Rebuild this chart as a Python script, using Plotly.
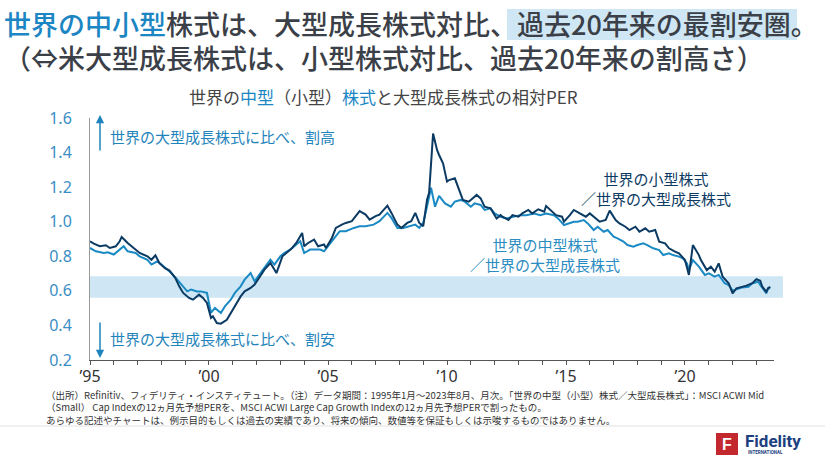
import plotly.graph_objects as go

# ---------------- data ----------------
# months since 1995-01 and relative PER values
SMALL_MONTHS = [0, 2, 5, 8, 10, 13, 15, 16, 19, 22, 25, 29, 31, 33, 35, 38, 40, 43, 45, 47, 50, 52, 55, 57, 59,
                61, 62, 64, 66, 69, 71, 74, 76, 78, 81, 83, 86, 88, 91, 92, 94, 97, 99, 102, 104, 107, 108, 110,
                113, 115, 118, 119, 122, 124, 127, 129, 132, 134, 136, 139, 141, 144, 146, 149, 150, 152, 155,
                157, 160, 162, 164, 166, 168, 170, 171, 173, 175, 176, 178, 180, 181, 184, 186, 188, 191, 192,
                195, 197, 199, 202, 203, 205, 207, 208, 211, 213, 216, 218, 221, 223, 226, 229, 230, 233, 235,
                238, 239, 242, 244, 247, 250, 252, 255, 257, 260, 262, 265, 267, 270, 272, 275, 277, 280, 282,
                285, 287, 290, 292, 295, 297, 300, 302, 304, 307, 308, 311, 313, 315, 317, 319, 322, 324, 326,
                329, 331, 334, 336, 338, 339, 341, 342, 343]
SMALL_VALUES = [0.887, 0.873, 0.858, 0.864, 0.848, 0.858, 0.887, 0.912, 0.877, 0.848, 0.819, 0.800, 0.780, 0.806,
                0.760, 0.730, 0.719, 0.675, 0.626, 0.588, 0.559, 0.549, 0.578, 0.559, 0.530, 0.443, 0.453, 0.414,
                0.410, 0.433, 0.472, 0.530, 0.568, 0.597, 0.617, 0.636, 0.684, 0.723, 0.761, 0.742, 0.703, 0.800,
                0.819, 0.848, 0.877, 0.935, 0.858, 0.877, 0.897, 0.858, 0.868, 0.848, 0.906, 0.964, 0.983, 0.993,
                1.003, 1.032, 1.061, 1.041, 1.012, 1.032, 1.041, 1.080, 1.093, 1.051, 0.983, 0.964, 0.993, 1.003,
                1.051, 0.993, 0.974, 1.128, 1.167, 1.510, 1.415, 1.386, 1.338, 1.232, 1.241, 1.251, 1.193, 1.126,
                1.116, 1.126, 1.155, 1.135, 1.087, 1.077, 1.058, 1.019, 1.038, 1.029, 1.010, 1.038, 1.029, 1.048,
                1.068, 1.048, 1.072, 1.058, 1.091, 1.058, 1.038, 1.029, 1.000, 1.038, 1.068, 1.048, 1.029, 1.048,
                1.019, 1.000, 1.010, 1.064, 1.010, 0.990, 0.971, 0.952, 0.971, 0.942, 0.962, 0.942, 0.952, 0.885,
                0.875, 0.846, 0.827, 0.817, 0.778, 0.692, 0.865, 0.807, 0.778, 0.720, 0.740, 0.711, 0.759, 0.682,
                0.644, 0.586, 0.615, 0.624, 0.630, 0.644, 0.667, 0.659, 0.624, 0.595, 0.615, 0.624]

MID_MONTHS = [0, 3, 7, 9, 12, 14, 17, 19, 23, 25, 29, 31, 34, 36, 39, 41, 44, 46, 49, 51, 54, 56, 59, 61, 63, 66,
              68, 71, 73, 76, 78, 81, 83, 86, 88, 91, 93, 96, 98, 101, 103, 106, 108, 111, 113, 116, 118, 121,
              124, 126, 129, 133, 136, 139, 143, 146, 150, 152, 155, 158, 161, 164, 166, 168, 170, 172, 174,
              176, 179, 182, 184, 187, 189, 192, 194, 197, 199, 202, 204, 207, 210, 213, 217, 220, 224, 227,
              230, 234, 236, 239, 241, 244, 246, 249, 251, 254, 256, 259, 261, 264, 266, 269, 271, 274, 276,
              279, 281, 284, 287, 289, 292, 294, 297, 299, 301, 302, 304, 307, 310, 312, 315, 317, 320, 322,
              324, 327, 329, 332, 334, 337, 338, 341, 342, 343]
MID_VALUES = [0.848, 0.829, 0.819, 0.823, 0.810, 0.829, 0.858, 0.829, 0.819, 0.800, 0.780, 0.752, 0.771, 0.752,
              0.723, 0.703, 0.665, 0.636, 0.597, 0.607, 0.597, 0.597, 0.588, 0.472, 0.501, 0.472, 0.510, 0.549,
              0.588, 0.626, 0.665, 0.703, 0.655, 0.703, 0.732, 0.780, 0.752, 0.800, 0.819, 0.839, 0.858, 0.887,
              0.819, 0.839, 0.839, 0.839, 0.829, 0.877, 0.916, 0.945, 0.945, 0.964, 0.974, 0.974, 0.983, 1.003,
              1.051, 1.022, 0.964, 0.964, 0.974, 0.983, 0.964, 0.993, 1.090, 1.196, 1.087, 1.149, 1.106, 1.087,
              1.116, 1.126, 1.116, 1.087, 1.106, 1.097, 1.068, 1.077, 1.048, 1.029, 1.019, 1.029, 1.038, 1.038,
              1.048, 1.038, 1.048, 1.038, 1.019, 0.981, 0.990, 1.000, 1.000, 1.010, 0.990, 0.952, 0.971, 0.942,
              0.952, 0.913, 0.904, 0.885, 0.865, 0.856, 0.865, 0.875, 0.865, 0.846, 0.836, 0.807, 0.817, 0.807,
              0.798, 0.788, 0.759, 0.720, 0.778, 0.740, 0.692, 0.701, 0.682, 0.692, 0.644, 0.634, 0.601, 0.615,
              0.620, 0.624, 0.644, 0.653, 0.634, 0.586, 0.615, 0.615]

BAND = [0.56, 0.685]                      # shaded "20-year cheap zone"
Y_TICKS = [0.2, 0.4, 0.6, 0.8, 1.0, 1.2, 1.4, 1.6]
X_TICK_YEARS = list(range(1995, 2024))
X_LABELS = {1995: "’95", 2000: "’00", 2005: "’05", 2010: "’10", 2015: "’15", 2020: "’20"}
X_RANGE = ["1995-01-01", "2023-09-28"]


def to_dates(months):
    return [f"{1995 + m // 12}-{m % 12 + 1:02d}-01" for m in months]


# ---------------- layout geometry (pixels) ----------------
W, H = 825, 464
L, R, T, B = 90, 774, 118, 360


def px2x(px):
    return (px - L) / (R - L)


def py2y(py):
    return (B - py) / (B - T)


DARK = "#0b3a63"
LIGHT = "#1b8ac4"
TXT = "#3b3f48"
JP = "Noto Sans CJK JP"

fig = go.Figure()
fig.add_trace(go.Scatter(x=to_dates(MID_MONTHS), y=MID_VALUES, mode="lines",
                         line=dict(color=LIGHT, width=2), hoverinfo="skip"))
fig.add_trace(go.Scatter(x=to_dates(SMALL_MONTHS), y=SMALL_VALUES, mode="lines",
                         line=dict(color=DARK, width=2), hoverinfo="skip"))

shapes = [
    dict(type="rect", xref="paper", yref="y", x0=0, x1=px2x(783), y0=BAND[0], y1=BAND[1],
         fillcolor="#cfe6f4", line=dict(width=0), layer="below"),
    # title highlight
    dict(type="rect", xref="paper", yref="paper", x0=px2x(507), x1=px2x(797), y0=py2y(40), y1=py2y(9),
         fillcolor="#cfe6f4", line=dict(width=0), layer="below"),
    # separator
    dict(type="line", xref="paper", yref="paper", x0=px2x(0), x1=px2x(825), y0=py2y(426), y1=py2y(426),
         line=dict(color="#e2e2e2", width=1)),
    # logo square
    dict(type="rect", xref="paper", yref="paper", x0=px2x(716), x1=px2x(738), y0=py2y(455), y1=py2y(433),
         fillcolor="#c3282e", line=dict(width=0)),
]

ann = []


def note(text, px, py, size, color=TXT, xanchor="left", align="left", family=JP, weight=None, **kw):
    f = dict(family=family, size=size, color=color)
    if weight:
        f["weight"] = weight
    ann.append(dict(text=text, xref="paper", yref="paper", x=px2x(px), y=py2y(py), xanchor=xanchor,
                    yanchor="middle", align=align, showarrow=False, font=f, **kw))


note('<span style="color:#1b86c3">世界の中小型</span>株式は、大型成長株式対比、過去20年来の最割安圏。',
     2, 24, 27, weight=500)
note("（⇔米大型成長株式は、小型株式対比、過去20年来の割高さ）", 2, 57, 27, weight=500)
note('世界の<span style="color:#1b86c3">中型</span>（小型）<span style="color:#1b86c3">株式</span>と大型成長株式の相対PER',
     383, 96, 17, color="#444", xanchor="center", align="center")

note("世界の大型成長株式に比べ、割高", 108, 136, 15, color="#1f84bb")
note("世界の大型成長株式に比べ、割安", 108, 338, 15, color="#1f84bb")
note("世界の小型株式<br>／世界の大型成長株式", 656, 188, 15, color=DARK, xanchor="center", align="center")
note("世界の中型株式<br>／世界の大型成長株式", 545, 254, 15, color="#2a8cc0", xanchor="center", align="center")

for tip, tail in ((115, 152), (358, 321)):
    ann.append(dict(text="", xref="paper", yref="paper", x=px2x(100), y=py2y(tip), ax=0, ay=tail - tip,
                    axref="pixel", ayref="pixel", showarrow=True, arrowhead=2, arrowsize=1.1,
                    arrowwidth=1.5, arrowcolor="#1f84bb"))

foot = ("（出所）Refinitiv、フィデリティ・インスティテュート。（注）データ期間：1995年1月～2023年8月、月次。"
        "「世界の中型（小型）株式／大型成長株式」：MSCI ACWI Mid<br>"
        "（Small） Cap Indexの12ヵ月先予想PERを、MSCI ACWI Large Cap Growth Indexの12ヵ月先予想PERで割ったもの。<br>"
        "あらゆる記述やチャートは、例示目的もしくは過去の実績であり、将来の傾向、数値等を保証もしくは示唆するものではありません。")
note(foot, 44, 407, 9.5, color="#333")

note("F", 727, 444, 16, color="white", xanchor="center", family="Liberation Sans", weight="bold")
note("Fidelity", 743, 441, 17, color="#1d3f7f", family="Roboto", weight="bold")
note("INTERNATIONAL", 746, 452, 4.5, color="#1d3f7f", family="Roboto", weight="bold")

fig.update_layout(
    width=W, height=H, margin=dict(l=L, r=W - R, t=T, b=H - B),
    paper_bgcolor="white", plot_bgcolor="white", showlegend=False,
    shapes=shapes, annotations=ann,
    xaxis=dict(type="date", range=X_RANGE, showgrid=False, zeroline=False,
               showline=True, linecolor="#555", linewidth=1,
               ticks="outside", ticklen=4, tickcolor="#555", tickwidth=1,
               tickvals=[f"{y}-01-01" for y in X_TICK_YEARS],
               ticktext=[X_LABELS.get(y, "") for y in X_TICK_YEARS],
               ticklabelstandoff=-2,
               tickfont=dict(family="Noto Sans", size=16, color="#333")),
    yaxis=dict(range=[0.2, 1.6], showgrid=False, zeroline=False,
               showline=True, linecolor="#9a9a9a", linewidth=1, ticks="",
               tickvals=Y_TICKS, tickformat=".1f", ticklabelstandoff=14,
               tickfont=dict(family="Noto Sans", size=16, color="#3a8ec4")),
)

fig.write_html("out.html", config={"displayModeBar": False, "staticPlot": True},
               post_script="document.body.style.margin='0';")
